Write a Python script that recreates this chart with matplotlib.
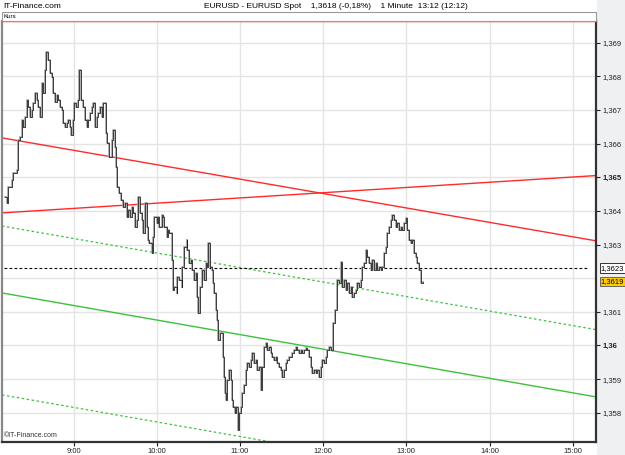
import matplotlib
matplotlib.use("Agg")
import matplotlib.pyplot as plt
from matplotlib.patches import Rectangle

plt.rcParams['font.family'] = ['Liberation Sans', 'DejaVu Sans']

# EUR/USD 1-minute closes, time in minutes after 08:00
minutes = [10.3, 11.8, 12.5, 15.4, 16.1, 19.0, 19.7, 21.1, 22.6, 23.3, 24.7, 26.2, 26.9, 28.3, 29.8,
           30.5, 31.9, 33.4, 34.1, 35.5, 37.0, 37.7, 39.1, 39.8, 41.3, 42.7, 44.2, 44.9, 46.3, 47.8,
           48.5, 49.9, 51.4, 52.1, 53.5, 55.0, 55.7, 57.1, 57.8, 59.3, 60.0, 61.4, 62.9, 63.6, 65.0,
           66.5, 67.9, 69.4, 70.1, 71.5, 73.0, 73.7, 75.1, 76.6, 77.3, 78.7, 80.2, 80.9, 82.3, 83.0,
           83.8, 85.2, 87.4, 88.1, 89.5, 90.2, 91.0, 92.4, 93.8, 95.3, 96.7, 98.2, 98.9, 100.3, 101.8,
           102.5, 103.9, 105.4, 106.1, 107.5, 109.0, 109.7, 111.1, 112.6, 113.3, 114.7, 116.2, 116.9,
           118.3, 119.8, 120.5, 121.9, 123.4, 124.1, 125.5, 127.0, 127.7, 129.1, 130.6, 131.3, 132.7,
           134.2, 134.9, 136.3, 137.8, 138.5, 139.9, 141.4, 142.1, 143.5, 145.0, 145.7, 147.1, 148.6,
           149.3, 150.0, 151.4, 152.9, 154.3, 155.8, 156.5, 157.2, 158.6, 160.1, 160.8, 161.5, 163.0,
           163.7, 164.4, 165.8, 167.3, 168.0, 168.7, 169.4, 170.2, 170.9, 172.3, 173.8, 174.5, 175.2,
           176.6, 177.4, 178.8, 179.5, 181.0, 181.7, 183.1, 184.6, 185.3, 186.7, 188.2, 188.9, 190.3,
           191.8, 192.5, 193.9, 195.4, 196.1, 197.5, 199.0, 199.7, 201.1, 202.6, 203.3, 204.7, 206.2,
           206.9, 208.3, 209.8, 210.5, 211.9, 213.4, 214.1, 215.5, 217.0, 217.7, 219.1, 220.6, 221.3,
           222.7, 224.2, 224.9, 226.3, 227.8, 228.5, 229.9, 231.4, 232.1, 233.5, 235.0, 235.7, 237.1,
           238.6, 239.3, 240.7, 242.2, 242.9, 244.3, 245.8, 247.2, 248.6, 250.1, 251.5, 253.0, 253.7,
           255.1, 256.6, 257.3, 258.7, 260.2, 260.9, 262.3, 263.8, 264.5, 265.9, 267.4, 268.1, 269.5,
           271.0, 271.7, 273.1, 274.6, 275.3, 276.7, 278.2, 278.9, 280.3, 281.8, 282.5, 283.9, 285.4,
           286.1, 287.5, 289.0, 289.7, 291.1, 292.6, 293.3, 294.7, 296.2, 296.9, 298.3, 299.8, 300.5,
           301.9, 303.4, 304.1, 305.5, 307.0, 307.7, 309.1, 310.6, 312.0]
prices = [1.36441, 1.36424, 1.36471, 1.36492, 1.36513, 1.36521, 1.36611, 1.36619, 1.36670, 1.36649,
          1.36679, 1.36729, 1.36708, 1.36679, 1.36700, 1.36720, 1.36750, 1.36729, 1.36708, 1.36679,
          1.36780, 1.36750, 1.36818, 1.36872, 1.36848, 1.36809, 1.36798, 1.36750, 1.36723, 1.36744,
          1.36729, 1.36708, 1.36700, 1.36661, 1.36649, 1.36661, 1.36670, 1.36649, 1.36625, 1.36670,
          1.36720, 1.36708, 1.36729, 1.36818, 1.36729, 1.36708, 1.36670, 1.36649, 1.36670, 1.36691,
          1.36708, 1.36720, 1.36649, 1.36679, 1.36691, 1.36708, 1.36679, 1.36720, 1.36720, 1.36631,
          1.36602, 1.36560, 1.36610, 1.36640, 1.36590, 1.36530, 1.36471, 1.36453, 1.36432, 1.36412,
          1.36423, 1.36382, 1.36403, 1.36382, 1.36412, 1.36394, 1.36352, 1.36373, 1.36441, 1.36394,
          1.36373, 1.36334, 1.36423, 1.36352, 1.36314, 1.36305, 1.36275, 1.36323, 1.36382, 1.36364,
          1.36382, 1.36352, 1.36388, 1.36382, 1.36352, 1.36323, 1.36343, 1.36334, 1.36254, 1.36165,
          1.36174, 1.36156, 1.36204, 1.36195, 1.36174, 1.36234, 1.36293, 1.36314, 1.36284, 1.36245,
          1.36254, 1.36225, 1.36195, 1.36216, 1.36144, 1.36097, 1.36174, 1.36225, 1.36195, 1.36245,
          1.36234, 1.36305, 1.36234, 1.36225, 1.36186, 1.36156, 1.36106, 1.36076, 1.36017, 1.36038,
          1.36038, 1.35966, 1.35907, 1.35859, 1.35838, 1.35898, 1.35928, 1.35898, 1.35838, 1.35818,
          1.35800, 1.35818, 1.35750, 1.35800, 1.35818, 1.35859, 1.35883, 1.35928, 1.35949, 1.35937,
          1.35958, 1.35978, 1.35949, 1.35958, 1.35928, 1.35937, 1.35868, 1.35937, 1.35996, 1.36008,
          1.35987, 1.35996, 1.35978, 1.35967, 1.35958, 1.35967, 1.35949, 1.35937, 1.35928, 1.35907,
          1.35928, 1.35949, 1.35958, 1.35967, 1.35967, 1.35978, 1.35987, 1.35996, 1.35987, 1.35978,
          1.35987, 1.35978, 1.35987, 1.35993, 1.35987, 1.35967, 1.35937, 1.35919, 1.35928, 1.35919,
          1.35928, 1.35907, 1.35937, 1.35958, 1.35949, 1.35967, 1.35987, 1.35996, 1.35987, 1.36067,
          1.36106, 1.36195, 1.36186, 1.36248, 1.36174, 1.36195, 1.36165, 1.36186, 1.36156, 1.36174,
          1.36144, 1.36156, 1.36165, 1.36186, 1.36174, 1.36195, 1.36234, 1.36245, 1.36284, 1.36263,
          1.36245, 1.36225, 1.36254, 1.36225, 1.36245, 1.36225, 1.36234, 1.36225, 1.36234, 1.36275,
          1.36293, 1.36334, 1.36352, 1.36373, 1.36388, 1.36373, 1.36352, 1.36364, 1.36343, 1.36352,
          1.36343, 1.36364, 1.36379, 1.36343, 1.36314, 1.36305, 1.36314, 1.36275, 1.36263, 1.36245,
          1.36225, 1.36186, 1.36190]

# trend / channel lines: price at left edge (08:08) and right edge (15:17)
line_minutes = [8.3, 436.8]
red_down = [1.36617, 1.36311]
red_up = [1.36394, 1.36505]
green_mid = [1.36156, 1.35847]
green_upper = [1.36355, 1.36047]
green_lower = [1.35853, 1.35544]
ref_level = 1.3623
last_price = 1.3619

hour_ticks = [60, 120, 180, 240, 300, 360, 420]
hour_labels = ["9:00", "10:00", "11:00", "12:00", "13:00", "14:00", "15:00"]
price_ticks = [1.358, 1.359, 1.360, 1.361, 1.363, 1.364, 1.365, 1.366, 1.367, 1.368, 1.369]
price_labels = ["1,358", "1,359", "1,36", "1,361", "1,363", "1,364", "1,365", "1,366", "1,367", "1,368", "1,369"]

fig = plt.figure(figsize=(6.25, 4.55), dpi=100, facecolor="white")
# grey panel right of the chart
fig.patches.append(Rectangle((597 / 625, 0), 28 / 625, 1, transform=fig.transFigure,
                             facecolor="#eef0f2", edgecolor="none", zorder=-1))
ax = fig.add_axes([2 / 625, 13 / 455, 594 / 625, 421 / 455])
ax.set_facecolor("white")
ax.set_xlim(8.3, 436.8)
ax.set_ylim(1.357129, 1.369645)

# grid
for h in hour_ticks:
    ax.axvline(h, color="#e4e4e4", lw=1, zorder=0)
for p in [1.358, 1.359, 1.360, 1.361, 1.362, 1.363, 1.364, 1.365, 1.366, 1.367, 1.368, 1.369]:
    ax.axhline(p, color="#e4e4e4", lw=1, zorder=0)

# lines
ax.plot(line_minutes, red_down, color="#ff2a2a", lw=1)
ax.plot(line_minutes, red_up, color="#ff2a2a", lw=1)
ax.plot(line_minutes, green_mid, color="#3cc23c", lw=1)
ax.plot(line_minutes, green_upper, color="#3cc23c", lw=0.9, linestyle=(0, (2, 2)))
ax.plot(line_minutes, green_lower, color="#3cc23c", lw=0.9, linestyle=(0, (2, 2)))
ax.plot([10, 431], [ref_level, ref_level], color="black", lw=0.8, linestyle=(0, (2.5, 2)))

# price
ax.plot(minutes, prices, color="#a8a8a8", lw=1.3, drawstyle="steps-post", zorder=3)
ax.plot(minutes, prices, color="#1e1e1e", lw=0.55, drawstyle="steps-post", zorder=4)

# axes styling
ax.yaxis.tick_right()
ax.set_yticks(price_ticks)
ax.set_yticklabels(price_labels)
for lab in ax.get_yticklabels():
    if lab.get_text() in ("1,36", "1,365"):
        lab.set_fontweight("bold")
ax.set_xticks(hour_ticks)
ax.set_xticklabels(hour_labels)
ax.tick_params(axis="both", direction="out", length=3, width=0.8, labelsize=5.5, pad=1.5, colors="#222222")
for side in ["left", "bottom", "right"]:
    ax.spines[side].set_linewidth(1.6)
ax.spines["left"].set_color("#888888")
ax.spines["right"].set_color("#333333")
ax.spines["bottom"].set_color("#333333")
ax.spines["top"].set_color("#ff2a2a")
ax.spines["top"].set_linewidth(1)

# value boxes on the right
ax.text(1.008, (ref_level - 1.357129) / (1.369645 - 1.357129), "1,3623", transform=ax.transAxes,
        fontsize=5.5, va="center", ha="left",
        bbox=dict(boxstyle="square,pad=0.15", fc="white", ec="#333333", lw=0.7), clip_on=False)
ax.text(1.008, (last_price - 1.357129) / (1.369645 - 1.357129), "1,3619", transform=ax.transAxes,
        fontsize=5.5, va="center", ha="left",
        bbox=dict(boxstyle="square,pad=0.15", fc="#ffcc00", ec="#666666", lw=0.7), clip_on=False)

ax.text(0.003, 0.006, "©IT-Finance.com", transform=ax.transAxes, fontsize=5, va="bottom", ha="left",
        color="#333333")

# header
fig.patches.append(Rectangle((2 / 625, (455 - 21) / 455), 594 / 625, 9 / 455, transform=fig.transFigure,
                             facecolor="white", edgecolor="#999999", lw=0.8))
fig.text(4 / 625, (455 - 16.5) / 455, "Kurs", fontsize=4.5, va="center", ha="left")
fig.text(3 / 625, (455 - 6) / 455, "IT-Finance.com", fontsize=6, va="center", ha="left")
fig.text(336 / 625, (455 - 6) / 455, "EURUSD - EURUSD Spot    1,3618 (-0,18%)    1 Minute  13:12 (12:12)",
         fontsize=6, va="center", ha="center")

fig.savefig("out.png", dpi=100, facecolor=fig.get_facecolor())
